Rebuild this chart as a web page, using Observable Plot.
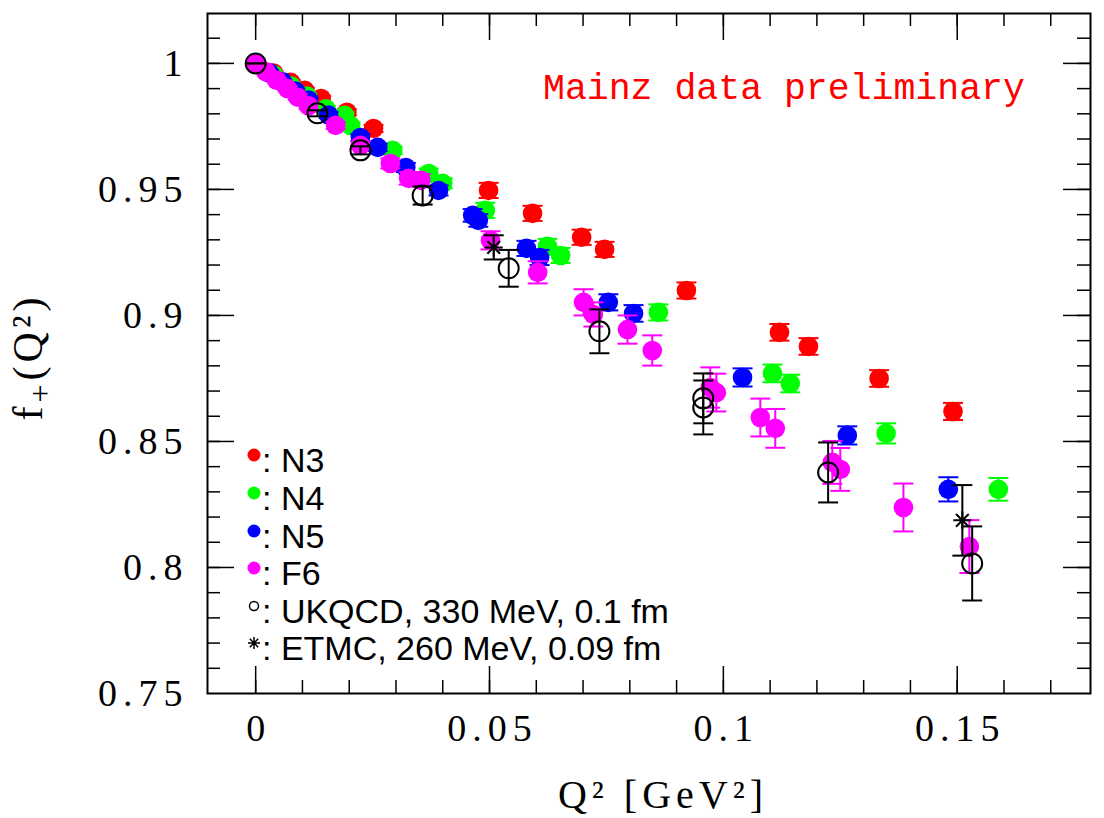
<!DOCTYPE html>
<html><head><meta charset="utf-8">
<script src="https://cdn.jsdelivr.net/npm/d3@7"></script>
<script src="https://cdn.jsdelivr.net/npm/@observablehq/plot@0.6"></script>
<style>
body{margin:0;background:#fff}
#chart{position:relative;width:1104px;height:818px}
</style>
</head><body><div id="chart"></div>
<script>
// ---------- data (Q^2 in GeV^2, f+(Q^2), error) ----------
const n3X = [0, 0.0038, 0.0075, 0.0105, 0.0140, 0.0195, 0.0252, 0.0498, 0.0592, 0.0697, 0.0746, 0.0921, 0.1120, 0.1182, 0.1333, 0.1491];
const n3Y = [1, 0.9962, 0.9925, 0.9893, 0.9861, 0.9806, 0.9742, 0.9496, 0.9405, 0.9310, 0.9262, 0.9099, 0.8933, 0.8877, 0.8750, 0.8619];
const n3E = [0, 0.0008, 0.0008, 0.0010, 0.0010, 0.0012, 0.0014, 0.0030, 0.0030, 0.0030, 0.0030, 0.0032, 0.0033, 0.0033, 0.0033, 0.0034];

const n4X = [0, 0.0038, 0.0076, 0.0110, 0.0150, 0.0190, 0.0203, 0.0293, 0.0370, 0.0400, 0.0491, 0.0624, 0.0652, 0.0861, 0.1105, 0.1143, 0.1348, 0.1588];
const n4Y = [1, 0.9955, 0.9910, 0.9870, 0.9820, 0.9794, 0.9753, 0.9655, 0.9563, 0.9524, 0.9417, 0.9274, 0.9238, 0.9012, 0.8770, 0.8730, 0.8532, 0.8310];
const n4E = [0, 0.0008, 0.0008, 0.0010, 0.0010, 0.0012, 0.0012, 0.0015, 0.0020, 0.0020, 0.0030, 0.0030, 0.0030, 0.0032, 0.0035, 0.0035, 0.0040, 0.0045];

const n5X = [0, 0.0029, 0.0057, 0.0085, 0.0113, 0.0156, 0.0224, 0.0261, 0.0321, 0.0391, 0.0464, 0.0476, 0.0579, 0.0607, 0.0754, 0.0808, 0.1041, 0.1265, 0.1481];
const n5Y = [1, 0.9963, 0.9927, 0.9890, 0.9855, 0.9795, 0.9706, 0.9667, 0.9587, 0.9496, 0.9397, 0.9377, 0.9266, 0.9230, 0.9052, 0.9008, 0.8754, 0.8524, 0.8310];
const n5E = [0, 0.0008, 0.0008, 0.0010, 0.0010, 0.0012, 0.0014, 0.0015, 0.0018, 0.0020, 0.0025, 0.0025, 0.0030, 0.0030, 0.0032, 0.0033, 0.0036, 0.0036, 0.0048];

const f6X = [0, 0.0022, 0.0045, 0.0068, 0.0090, 0.0113, 0.0171, 0.0224, 0.0288, 0.0327, 0.0353, 0.0502, 0.0603, 0.0701, 0.0722, 0.0795, 0.0848, 0.0972, 0.0985, 0.1079, 0.1111, 0.1233, 0.1250, 0.1385, 0.1526];
const f6Y = [1, 0.9967, 0.9933, 0.9900, 0.9866, 0.9832, 0.9754, 0.9675, 0.9603, 0.9544, 0.9536, 0.9298, 0.9171, 0.9052, 0.9004, 0.8944, 0.8861, 0.8714, 0.8694, 0.8595, 0.8552, 0.8417, 0.8389, 0.8238, 0.8083];
const f6E = [0, 0.0006, 0.0008, 0.0010, 0.0010, 0.0012, 0.0014, 0.0015, 0.0020, 0.0025, 0.0025, 0.0036, 0.0044, 0.0052, 0.0048, 0.0056, 0.0060, 0.0080, 0.0075, 0.0075, 0.0077, 0.0085, 0.0085, 0.0095, 0.0105];

const ukqcdX = [0, 0.0132, 0.0224, 0.0357, 0.0541, 0.0735, 0.0957, 0.0957, 0.1224, 0.1532];
const ukqcdY = [1, 0.9802, 0.9655, 0.9476, 0.9187, 0.8937, 0.8671, 0.8635, 0.8377, 0.8016];
const ukqcdE = [0, 0.0012, 0.0016, 0.0036, 0.0073, 0.0087, 0.0099, 0.0107, 0.0119, 0.0147];

const etmcX = [0.0509, 0.1511];
const etmcY = [0.9270, 0.8187];
const etmcE = [0.0048, 0.0140];

const xTickLabels = [0, 0.05, 0.1, 0.15];
const yTickLabels = [0.75, 0.8, 0.85, 0.9, 0.95, 1];
const xMinorTicks = [0, 0.01, 0.02, 0.03, 0.04, 0.05, 0.06, 0.07, 0.08, 0.09, 0.1, 0.11, 0.12, 0.13, 0.14, 0.15, 0.16, 0.17];
const yMinorTicks = [0.76, 0.77, 0.78, 0.79, 0.8, 0.81, 0.82, 0.83, 0.84, 0.85, 0.86, 0.87, 0.88, 0.89, 0.9, 0.91, 0.92, 0.93, 0.94, 0.95, 0.96, 0.97, 0.98, 0.99, 1, 1.01];

const seriesNames = ["N3", "N4", "N5", "F6"];
const seriesColors = ["#ff0000", "#00ff00", "#0000ff", "#ff00ff"];
const legendLabels = [": N3", ": N4", ": N5", ": F6", ": UKQCD, 330 MeV, 0.1 fm", ": ETMC, 260 MeV, 0.09 fm"];

// ---------- build ----------
const rows = (xs, ys, es) => xs.map((x, i) => ({x, y: ys[i], e: es[i]}));
const series = [rows(n3X, n3Y, n3E), rows(n4X, n4Y, n4E), rows(n5X, n5Y, n5E), rows(f6X, f6Y, f6E)];
const ukqcd = rows(ukqcdX, ukqcdY, ukqcdE);
const etmc = rows(etmcX, etmcY, etmcE);

const capSymbol = {draw(ctx, size) { const r = Math.sqrt(size / Math.PI); ctx.moveTo(-r, 0); ctx.lineTo(r, 0); }};
const starSymbol = {draw(ctx, size) {
  const r = Math.sqrt(size / Math.PI), d = r * Math.SQRT1_2;
  ctx.moveTo(-r, 0); ctx.lineTo(r, 0); ctx.moveTo(0, -r); ctx.lineTo(0, r);
  ctx.moveTo(-d, -d); ctx.lineTo(d, d); ctx.moveTo(-d, d); ctx.lineTo(d, -d);
}};

const W = 1104, H = 818, mL = 207, mR = 14, mT = 13, mB = 125;
const fw = W - mL - mR, fh = H - mT - mB;

function errMarks(data, color, capR) {
  return [
    Plot.ruleX(data, {x: "x", y1: d => d.y - d.e, y2: d => d.y + d.e, stroke: color, strokeWidth: 2}),
    Plot.dot(data, {x: "x", y: d => d.y - d.e, symbol: capSymbol, r: capR, stroke: color, strokeWidth: 2, fill: "none"}),
    Plot.dot(data, {x: "x", y: d => d.y + d.e, symbol: capSymbol, r: capR, stroke: color, strokeWidth: 2, fill: "none"})
  ];
}

const marks = [];
series.forEach((s, i) => {
  marks.push(...errMarks(s, seriesColors[i], 10));
  marks.push(Plot.dot(s, {x: "x", y: "y", r: 9.8, fill: seriesColors[i], stroke: "none"}));
});
marks.push(...errMarks(ukqcd, "black", 10));
marks.push(Plot.dot(ukqcd, {x: "x", y: "y", r: 10, stroke: "black", strokeWidth: 2, fill: "none"}));
marks.push(...errMarks(etmc, "black", 10));
marks.push(Plot.dot(etmc, {x: "x", y: "y", r: 9, symbol: starSymbol, stroke: "black", strokeWidth: 2, fill: "none"}));

// frame ticks (inside, all four sides)
const isMajorX = v => xTickLabels.some(t => Math.abs(t - v) < 1e-9);
const isMajorY = v => yTickLabels.some(t => Math.abs(t - v) < 1e-9);
const tickStyle = {stroke: "black", strokeWidth: 1.5};
const axisText = {fontSize: 38, fontFamily: "'Liberation Serif', serif"};
marks.push(
  Plot.tickX(xMinorTicks, {x: d => d, insetTop: fh - 13, ...tickStyle}),
  Plot.tickX(xMinorTicks.filter(isMajorX), {x: d => d, insetTop: fh - 27, ...tickStyle}),
  Plot.tickX(xMinorTicks, {x: d => d, insetBottom: fh - 13, ...tickStyle}),
  Plot.tickX(xMinorTicks.filter(isMajorX), {x: d => d, insetBottom: fh - 27, ...tickStyle}),
  Plot.tickY(yMinorTicks, {y: d => d, insetRight: fw - 13, ...tickStyle}),
  Plot.tickY(yMinorTicks.filter(isMajorY), {y: d => d, insetRight: fw - 27, ...tickStyle}),
  Plot.tickY(yMinorTicks, {y: d => d, insetLeft: fw - 13, ...tickStyle}),
  Plot.tickY(yMinorTicks.filter(isMajorY), {y: d => d, insetLeft: fw - 27, ...tickStyle}),
  Plot.axisX(xTickLabels, {anchor: "bottom", tickSize: 0, tickPadding: 21, tickFormat: d3.format("~g"), label: null, ...axisText}),
  Plot.axisY(yTickLabels, {anchor: "left", tickSize: 0, tickPadding: 19, tickFormat: d3.format("~g"), label: null, ...axisText}),
  Plot.frame({stroke: "black", strokeWidth: 2})
);

const chart = Plot.plot({
  width: W, height: H,
  marginLeft: mL, marginRight: mR, marginTop: mT, marginBottom: mB,
  x: {domain: [-0.0103, 0.1785], label: null},
  y: {domain: [0.75, 1.0198], label: null},
  style: {fontFamily: "'Liberation Serif', serif", fontSize: "38px", background: "white", color: "black", overflow: "visible"},
  marks
});
document.getElementById("chart").appendChild(chart);

// widen tick label spacing like the reference
d3.select(chart).selectAll("g[aria-label='x-axis tick label'] text, g[aria-label='y-axis tick label'] text")
  .attr("letter-spacing", 6);
d3.select(chart).selectAll("g[aria-label='x-axis tick label'] text").attr("dx", 3);

// ---------- labels & legend ----------
const svg = d3.select(chart);
const g = svg.append("g").attr("text-anchor", "start");

g.append("text")
  .attr("transform", "translate(42,357) rotate(-90)")
  .attr("text-anchor", "middle")
  .attr("letter-spacing", 4)
  .attr("font-family", "'Liberation Serif', serif").attr("font-size", 42)
  .call(t => {
    t.append("tspan").text("f");
    t.append("tspan").attr("dy", 9).attr("font-size", 32).text("+");
    t.append("tspan").attr("dy", -9).text("(Q²)");
  });

g.append("text")
  .attr("x", 663).attr("y", 808)
  .attr("text-anchor", "middle")
  .attr("letter-spacing", 5)
  .attr("font-family", "'Liberation Serif', serif").attr("font-size", 40)
  .text("Q² [GeV²]");

g.append("text")
  .attr("x", 543).attr("y", 99)
  .attr("text-anchor", "start")
  .attr("font-family", "'Liberation Mono', monospace").attr("font-size", 36.5)
  .attr("fill", "#ff0000")
  .text("Mainz data preliminary");

const legendBase = [472, 510, 548, 585, 623, 660];
legendLabels.forEach((lab, i) => {
  const cy = legendBase[i] - 17;
  if (i < 4) {
    g.append("circle").attr("cx", 254).attr("cy", cy).attr("r", 6.5).attr("fill", seriesColors[i]);
  } else if (i === 4) {
    g.append("circle").attr("cx", 254).attr("cy", cy).attr("r", 4.5).attr("fill", "none").attr("stroke", "black").attr("stroke-width", 1.5);
  } else {
    const p = d3.path(); starSymbol.draw(p, Math.PI * 36);
    g.append("path").attr("transform", `translate(254,${cy})`).attr("d", p.toString()).attr("stroke", "black").attr("stroke-width", 1.5).attr("fill", "none");
  }
  g.append("text").attr("x", 262).attr("y", legendBase[i])
    .attr("text-anchor", "start")
    .attr("font-family", "'Liberation Sans', Arial, sans-serif").attr("font-size", 34)
    .text(lab);
});
</script>
</body></html>
